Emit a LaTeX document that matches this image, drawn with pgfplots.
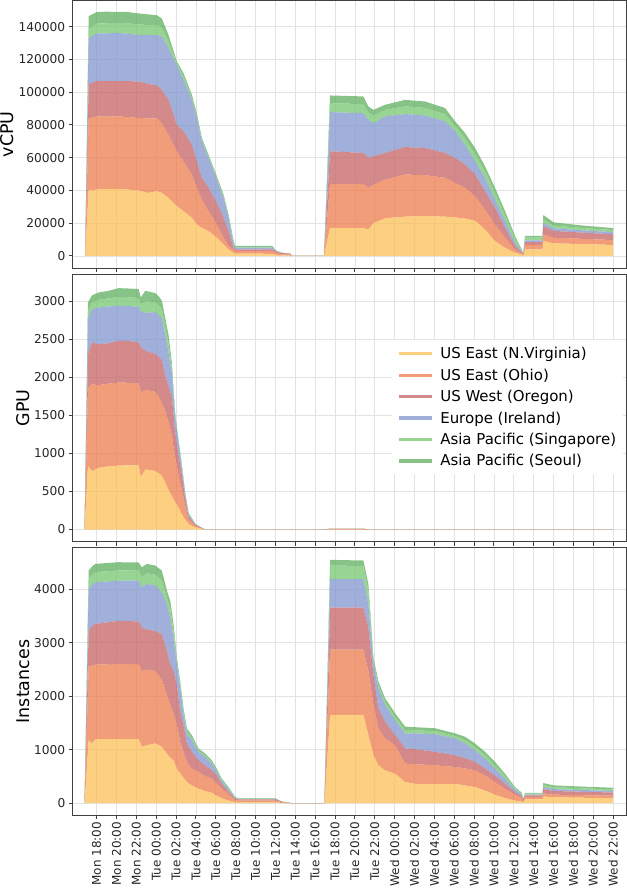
\documentclass[border=0pt]{standalone}
\usepackage{fontspec}
\setmainfont{DejaVu Sans}
\usepackage{pgfplots}
\usepackage{pgfplotstable}
\pgfplotsset{compat=1.18}
\usetikzlibrary{calc}

\definecolor{cA}{RGB}{252,191,86}
\definecolor{cB}{RGB}{238,124,78}
\definecolor{cC}{RGB}{198,99,99}
\definecolor{cD}{RGB}{128,150,206}
\definecolor{cE}{RGB}{118,198,112}
\definecolor{cF}{RGB}{95,175,95}
\definecolor{lA}{RGB}{253,207,128}
\definecolor{lB}{RGB}{242,157,122}
\definecolor{lC}{RGB}{212,138,138}
\definecolor{lD}{RGB}{160,176,218}
\definecolor{lE}{RGB}{152,212,148}
\definecolor{lF}{RGB}{135,195,135}

\pgfplotstableread{
h y s r b lg dg
-1.15 0 0 0 0 0 0
-0.8 40000 44000 21000 28000 6000 7500
0 40500 44700 21700 29000 6000 7000
1 40800 44300 21600 29200 6200 7100
2 40800 44400 21500 29500 6000 6800
3 40600 44300 21900 29000 6300 6900
4.23 39900 44300 22300 28400 6500 6700
5.23 38500 45500 21000 30000 6000 6500
6.07 39600 44400 20100 30800 6100 6000
6.57 38500 42600 20300 32600 5500 5500
7.24 35500 38500 21300 31500 4000 4100
8.08 30400 33500 16200 36500 1000 1100
8.75 27400 30400 18300 31400 2000 2100
9.59 23300 26400 18200 27400 1500 1600
10.09 19200 22400 16200 26400 1500 1500
10.60 17200 17300 13200 22300 1000 1000
11.27 15200 12200 14200 18200 1000 1000
12.10 11100 8100 13200 14200 1000 1100
12.78 7100 4000 12200 12200 1000 1000
13.28 4000 2100 9100 8100 1000 1000
13.78 2000 2000 1000 2100 1300 1200
13.95 1400 1600 1000 1000 500 600
17.7 1300 1700 1000 1000 500 600
18.0 800 1200 800 300 200 200
18.6 300 700 800 100 50 50
19.5 200 600 600 0 0 0
19.65 0 0 0 0 0 0
22.9 0 0 0 0 0 0
23.5 17200 26800 19900 23900 5500 4700
26.86 17200 26800 18900 24300 5500 4700
27.36 16200 25400 18200 23300 4600 3600
27.87 20000 23600 17300 20200 4600 3500
29.04 23000 23600 16300 22300 4000 3100
31.06 24000 25700 16800 20100 4700 4000
33.07 24300 25000 16600 19900 4600 3900
35.08 24000 23700 15200 19300 4400 3700
36.09 23500 21100 15200 16300 3400 2700
37.09 22800 18800 14200 12100 4000 3200
38.10 21500 15000 13200 8100 4500 3600
39.10 16200 12200 11200 8100 4000 3100
40.11 9100 10100 10200 5100 4000 3100
41.12 5000 6100 6100 4100 3400 2700
42.12 2000 2000 2100 2000 2300 1800
42.79 800 600 600 1000 500 500
42.96 300 300 200 200 200 200
43.13 4000 2700 1800 1000 1600 1100
44.9 4000 2700 1800 1000 1600 1100
44.97 9100 4000 5200 2000 2000 2700
46 7700 3400 4200 1600 1600 2000
49 7200 3200 3800 1400 1400 1500
52 6700 3000 3500 1300 1300 1200
}\tblv

\pgfplotstableread{
h y s r b lg dg
-1.21 0 0 0 0 0 0
-0.87 835 1032 439 461 110 110
-0.47 769 1141 550 439 90 90
0.2 810 1090 537 484 100 97
1.21 835 1085 530 485 105 100
2.21 840 1093 549 461 115 117
3.22 845 1085 550 460 115 115
4.23 845 1075 540 470 115 120
4.45 690 1110 600 470 90 93
4.9 790 1050 510 500 150 140
5.9 770 1040 500 550 130 120
6.24 740 1010 520 550 130 120
6.57 710 960 560 560 110 110
6.91 620 935 465 540 110 110
7.24 525 890 475 440 115 115
7.58 440 790 510 310 70 70
7.91 360 590 335 185 25 25
8.25 290 415 275 160 20 20
8.58 200 327 198 88 22 22
8.92 134 174 99 43 16 17
9.26 70 60 40 25 12 13
9.93 30 20 12 7 3 3
10.9 0 0 0 0 0 0
22.9 0 0 0 0 0 0
23.5 0 10 0 0 0 0
26.86 0 10 0 0 0 0
27.4 0 0 0 0 0 0
52 0 0 0 0 0 0
}\tblg

\pgfplotstableread{
h y s r b lg dg
-1.21 0 0 0 0 0 0
-0.8 1178 1381 658 783 190 156
-0.47 1116 1454 741 769 190 150
-0.13 1197 1392 761 776 190 155
2.21 1197 1405 803 753 190 154
4.23 1197 1400 800 760 190 150
4.56 1054 1411 815 752 200 176
5.06 1084 1411 753 846 200 176
5.9 1116 1354 747 853 200 170
6.57 1054 1253 847 784 220 188
7.08 928 1096 817 877 130 122
7.41 850 986 753 879 160 154
7.75 800 880 785 626 130 121
8.08 645 815 753 376 65 61
8.42 560 588 564 439 63 63
8.75 480 480 500 188 63 63
9.09 395 376 345 188 47 47
9.59 331 314 315 218 47 47
10.26 269 314 219 158 31 31
10.93 226 282 199 158 32 31
11.60 194 263 156 126 32 31
12.10 138 225 156 64 31 31
12.61 94 175 94 43 26 25
13.28 49 126 43 38 23 22
13.95 19 35 25 15 10 9
14.29 18 32 22 10 6 6
17.98 18 32 22 10 6 6
18.64 5 15 10 0 0 0
19.65 0 0 0 0 0 0
22.94 0 0 0 0 0 0
23.51 1648 1223 785 532 250 108
26.86 1648 1223 785 532 246 100
27.36 1272 1193 815 438 260 116
27.87 896 940 565 199 60 60
28.37 707 691 376 377 63 63
29.04 613 597 314 312 63 63
30.05 551 533 188 282 63 63
31.06 395 344 283 282 63 63
32.06 363 366 281 294 58 58
34.07 363 344 253 330 55 55
36.09 363 314 219 314 47 47
37.09 331 319 190 276 63 63
38.10 301 312 158 219 63 63
39.10 237 282 126 189 63 63
40.11 156 239 124 126 63 63
41.12 94 175 94 94 47 47
42.12 49 107 51 49 23 22
42.79 30 70 35 30 20 15
42.96 15 25 15 10 8 8
43.13 70 45 30 15 20 14
44.9 70 45 30 15 20 14
44.97 125 58 80 40 38 35
46 110 50 68 35 35 35
49 102 47 64 32 32 32
52 95 44 60 30 30 29
}\tbli

\pgfplotsset{
  panel/.style={
    scale only axis, width=554pt, height=268pt,
    xmin=-2.4, xmax=53.3,
    xtick={0,2,...,52},
    stack plots=y,
    grid=major,
    grid style={line width=0.7pt, color=black!11},
    axis line style={line width=0.9pt, color=black!75},
    tick style={line width=0.9pt, color=black!75},
    tick align=outside, major tick length=4pt,
    xtick pos=bottom, ytick pos=left,
    yticklabel style={font=\fontsize{12.2}{14}\selectfont, color=black!85},
    xticklabel style={font=\fontsize{12}{14}\selectfont, color=black!85},
    /pgf/number format/fixed,
    /pgf/number format/precision=0,
    /pgf/number format/assume math mode=true,
    /pgf/number format/1000 sep={},
    scaled y ticks=false,
    ylabel style={font=\fontsize{17.5}{20}\selectfont, inner sep=1pt},
  },
  lay/.style={fill=#1, fill opacity=0.75, draw=none},
}

\newcommand{\stackall}[1]{%
  \addplot[lay=cA] table[x=h,y=y] {#1} \closedcycle;
  \addplot[lay=cB] table[x=h,y=s] {#1} \closedcycle;
  \addplot[lay=cC] table[x=h,y=r] {#1} \closedcycle;
  \addplot[lay=cD] table[x=h,y=b] {#1} \closedcycle;
  \addplot[lay=cE] table[x=h,y=lg] {#1} \closedcycle;
  \addplot[lay=cF] table[x=h,y=dg] {#1} \closedcycle;
}

\begin{document}
\begin{tikzpicture}
\begin{axis}[panel, name=top,
  ymin=-7430, ymax=156030, ytick={0,20000,...,140000},
  xticklabels={}, ylabel={vCPU}]
\stackall{\tblv}
\end{axis}

\begin{axis}[panel, name=mid,
  at={($(top.south west)+(0,-6pt)$)}, anchor=north west,
  ymin=-160, ymax=3360, ytick={0,500,...,3000},
  xticklabels={}, ylabel={GPU},
  legend image code/.code={\draw[#1] (0pt,0pt) -- (33pt,0pt); \path (38pt,0pt);},
  legend cell align=left,
  legend style={at={(0.995,0.502)}, anchor=east, draw=none, fill=white,
    font=\fontsize{15}{18}\selectfont, row sep=4.6pt, inner sep=5pt}]
\addlegendimage{line width=3.2pt, color=lA}
\addlegendimage{line width=3.2pt, color=lB}
\addlegendimage{line width=3.2pt, color=lC}
\addlegendimage{line width=3.2pt, color=lD}
\addlegendimage{line width=3.2pt, color=lE}
\addlegendimage{line width=3.2pt, color=lF}
\stackall{\tblg}
\legend{US East (N.Virginia), US East (Ohio), US West (Oregon), Europe (Ireland), Asia Pacific (Singapore), Asia Pacific (Seoul)}
\end{axis}

\begin{axis}[panel, name=bot,
  at={($(mid.south west)+(0,-6pt)$)}, anchor=north west,
  ymin=-227, ymax=4773, ytick={0,1000,...,4000},
  ylabel={Instances},
  xticklabels={Mon 18:00,Mon 20:00,Mon 22:00,Tue 00:00,Tue 02:00,Tue 04:00,Tue 06:00,Tue 08:00,Tue 10:00,Tue 12:00,Tue 14:00,Tue 16:00,Tue 18:00,Tue 20:00,Tue 22:00,Wed 00:00,Wed 02:00,Wed 04:00,Wed 06:00,Wed 08:00,Wed 10:00,Wed 12:00,Wed 14:00,Wed 16:00,Wed 18:00,Wed 20:00,Wed 22:00},
  xticklabel style={rotate=90, anchor=east, inner sep=2.5pt}]
\stackall{\tbli}
\end{axis}
\end{tikzpicture}
\end{document}
